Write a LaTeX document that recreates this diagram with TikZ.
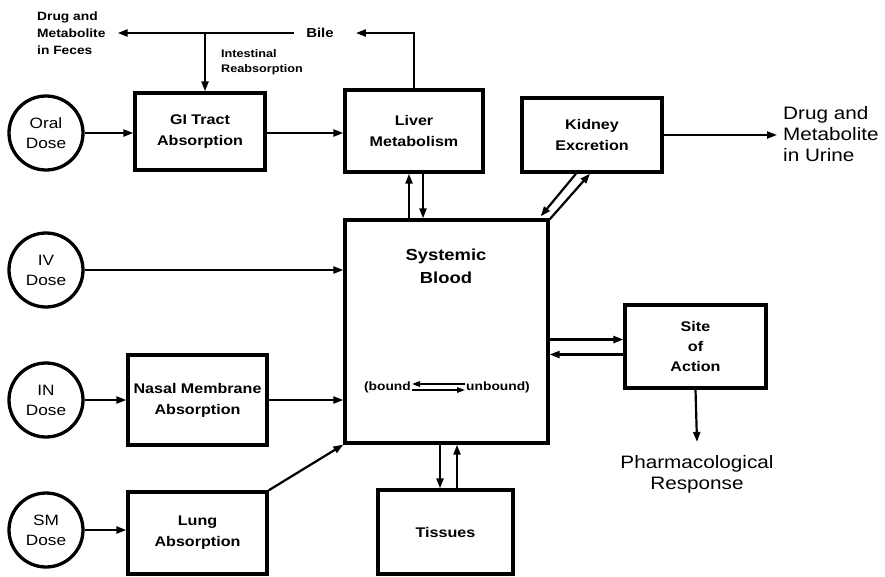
\documentclass[tikz,border=0pt]{standalone}
\usepackage{fontspec}
\setmainfont{Liberation Sans}[FakeStretch=1.15]
\usetikzlibrary{arrows.meta,calc}
\begin{document}
\begin{tikzpicture}[x=1pt,y=-1pt,
  box/.style={draw, line width=3.3pt, align=center, inner sep=0pt, font=\fontsize{14}{21}\selectfont\bfseries},
  dose/.style={draw, circle, line width=3.3pt, minimum size=74pt, inner sep=0pt, align=center, font=\fontsize{15}{20}\selectfont},
  arr/.style={line width=2.2pt, -{Triangle[length=10pt,width=7pt]}},
  sarr/.style={line width=1.6pt, -{Triangle[length=8pt,width=5.5pt]}},
  small/.style={align=left, inner sep=0pt, font=\fontsize{12}{17}\selectfont\bfseries},
  big/.style={inner sep=0pt, font=\fontsize{18}{21}\selectfont}]
\useasboundingbox (0,0) rectangle (885,576);

% dose circles
\node[dose] (oral) at (46,133) {Oral\\Dose};
\node[dose] (iv) at (46,270) {IV\\Dose};
\node[dose] (indose) at (46,400) {IN\\Dose};
\node[dose] (sm) at (46,530) {SM\\Dose};

% boxes
\node[box, minimum width=130pt, minimum height=77pt] (gi) at (200,131.5) {GI Tract\\Absorption};
\node[box, minimum width=138pt, minimum height=82pt] (liver) at (414,131) {Liver\\Metabolism};
\node[box, minimum width=140pt, minimum height=74pt] (kidney) at (592,135) {Kidney\\Excretion};
\node[box, minimum width=203pt, minimum height=223pt] (sys) at (446.5,331.5) {};
\node[font=\fontsize{16}{23}\selectfont\bfseries, align=center] (sysl) at (446,266) {Systemic\\Blood};
\node[box, minimum width=139pt, minimum height=90pt] (nasal) at (197.5,400) {Nasal Membrane\\Absorption};
\node[box, minimum width=139pt, minimum height=82pt] (lung) at (197.5,533) {Lung\\Absorption};
\node[box, minimum width=135pt, minimum height=84pt] (tissues) at (445.5,532) {Tissues};
\node[box, minimum width=141pt, minimum height=83pt, font=\fontsize{14}{20}\selectfont\bfseries] (site) at (695.5,346.5) {Site\\of\\Action};

% bound / unbound
\node[anchor=east, inner sep=0pt, font=\fontsize{12}{14}\selectfont\bfseries] (bnd) at (411,387) {(bound};
\node[anchor=west, inner sep=0pt, font=\fontsize{12}{14}\selectfont\bfseries] (unb) at (466,387) {unbound)};
\draw[sarr] ($(unb.west)+(-1,-3)$) -- ($(bnd.east)+(1,-3)$);
\draw[sarr] ($(bnd.east)+(1,3)$) -- ($(unb.west)+(-1,3)$);

% outer labels
\node[big, anchor=west, align=left] (urine) at (783,134) {Drug and\\Metabolite\\in Urine};
\node[big, align=center] (pharm) at (697,474) {Pharmacological\\Response};
\node[inner sep=0pt, font=\fontsize{13}{16}\selectfont\bfseries] (bile) at (320,33) {Bile};
\node[small, anchor=west] (feces) at (37,33) {Drug and\\Metabolite\\in Feces};
\node[small, anchor=west, font=\fontsize{11}{15}\selectfont\bfseries] (intabs) at (221,62) {Intestinal\\Reabsorption};

% helper coordinates
\coordinate (ia) at (205,33);
\coordinate (lu) at ($(liver.south)+(-5,0)$);
\coordinate (ld) at ($(liver.south)+(9,0)$);
\coordinate (td) at ($(tissues.north)+(-5.5,0)$);
\coordinate (tu) at ($(tissues.north)+(11.5,0)$);
\coordinate (sa) at ($(site.west)+(0,-7)$);
\coordinate (sb) at ($(site.west)+(0,8)$);
\coordinate (bileR) at ($(bile.east)+(22,0)$);
\coordinate (bileL) at ($(bile.west)+(-12,0)$);
\coordinate (fecesR) at ($(feces.east)+(12,0)$);
\coordinate (urineL) at ($(kidney.east -| urine.west)+(-6,0)$);
\coordinate (pharmT) at ($(pharm.north)+(0,-13)$);

% connectors
\draw[arr] (oral.east) -- (oral.east -| gi.west);
\draw[arr] (gi.east |- oral.east) -- (liver.west |- oral.east);
\draw[arr] (liver.north) |- (bileR);
\draw[arr] (bileL) -- (fecesR);
\draw[arr] (ia) -- (ia |- gi.north);
\draw[arr] (lu |- sys.north) -- (lu);
\draw[arr] (ld) -- (ld |- sys.north);
\draw[arr] ($(sys.north east)+(0,1)$) -- ($(kidney.south)+(-2,0)$);
\draw[arr] ($(kidney.south)+(-16,0)$) -- ($(sys.north east)+(-9,-2)$);
\draw[arr] (kidney.east) -- (urineL);
\draw[arr] (iv.east) -- (iv.east -| sys.west);
\draw[arr] (indose.east) -- (nasal.west);
\draw[arr] (nasal.east) -- (nasal.east -| sys.west);
\draw[arr] (sm.east) -- (sm.east -| lung.west);
\draw[arr] (lung.north east) -- (sys.south west);
\draw[arr] (sa -| sys.east) -- (sa);
\draw[arr] (sb) -- (sb -| sys.east);
\draw[arr] (site.south) -- (pharmT);
\draw[arr] (td |- sys.south) -- (td);
\draw[arr] (tu) -- (tu |- sys.south);
\end{tikzpicture}
\end{document}
